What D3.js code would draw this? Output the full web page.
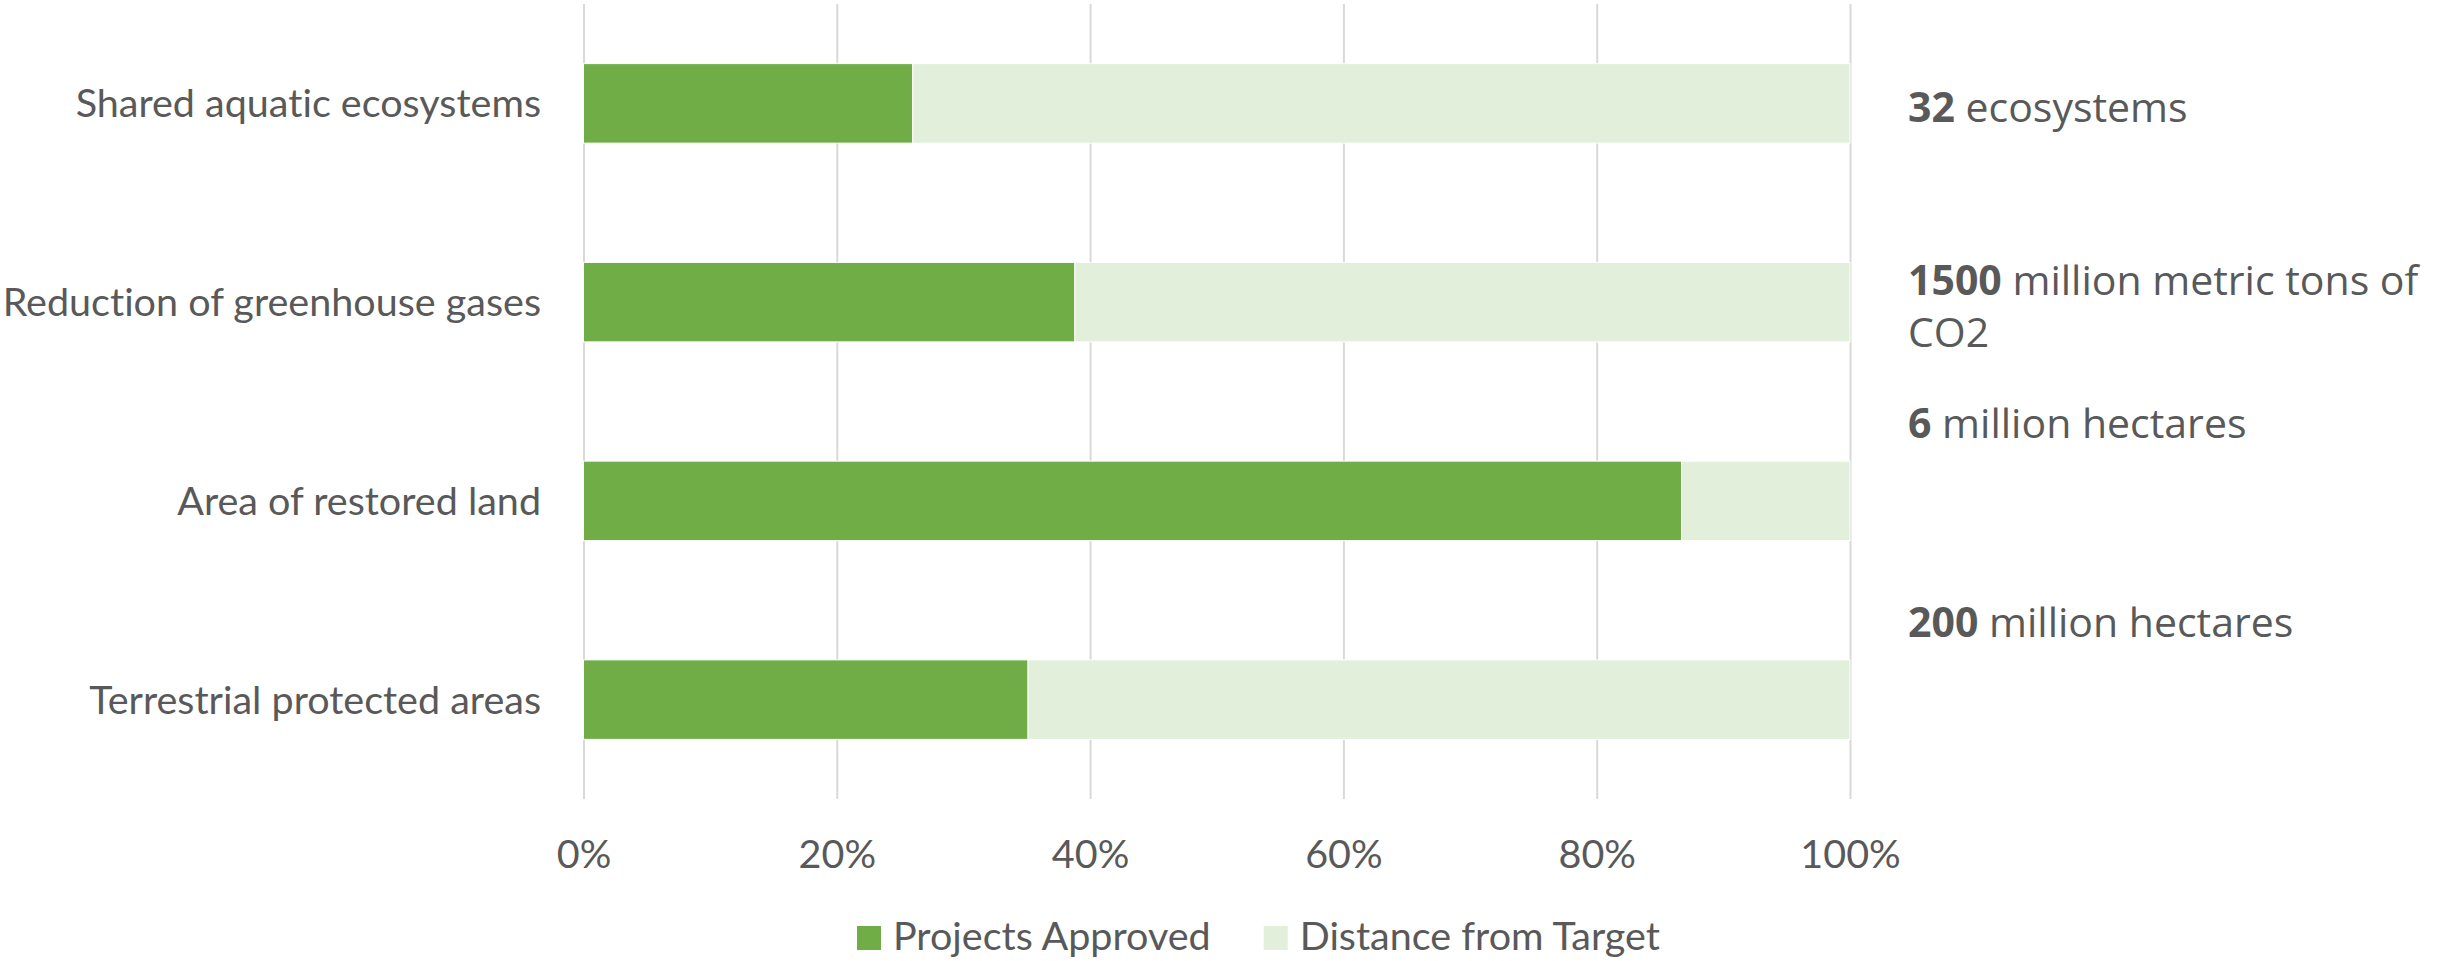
<!DOCTYPE html>
<html>
<head>
<meta charset="utf-8">
<script src="https://cdn.jsdelivr.net/npm/d3@7"></script>
<style>
  html, body { margin: 0; padding: 0; background: #ffffff; }
  svg { display: block; }
  text { font-variant-ligatures: none; font-feature-settings: "liga" 0, "clig" 0, "dlig" 0; }
</style>
</head>
<body>
<svg id="chart" width="2438" height="961"></svg>
<script>
// ---------- data ----------
const categories = [
  "Shared aquatic ecosystems",
  "Reduction of greenhouse gases",
  "Area of restored land",
  "Terrestrial protected areas"
];
const projectsApproved = [0.26, 0.388, 0.867, 0.351];
const distanceFromTarget = projectsApproved.map(v => 1 - v);
const seriesNames = ["Projects Approved", "Distance from Target"];
const tickValues = [0, 0.2, 0.4, 0.6, 0.8, 1.0];
const targetBold = ["32", "1500", "6", "200"];
const targetRest = [["ecosystems"], ["million metric tons of", "CO2"], ["million hectares"], ["million hectares"]];

// ---------- layout / style ----------
const W = 2438, H = 961;
const plot = { left: 583.5, right: 1850, top: 4, bottom: 799 };
const colors = ["#70AD47", "#E2EFDA"];
const textColor = "#595959";
const gridColor = "#D9D9D9";
const labelFont = "Lato, 'Open Sans', sans-serif";
const labelSize = 39.5;
const noteFont = "'Open Sans', 'Noto Sans', sans-serif";
const noteSize = 41;
const noteX = 1908;
const noteBaselineOffset = [19, -7, -63, -63]; // relative to band centre
const noteLineGap = 52;

const svg = d3.select("#chart");

const x = d3.scaleLinear().domain([0, 1]).range([plot.left, plot.right]);
const y = d3.scaleBand().domain(categories).range([plot.top, plot.bottom])
  .paddingInner(0.6).paddingOuter(0.3);

// gridlines
const grid = svg.append("g").attr("class", "grid")
  .attr("transform", `translate(0,${plot.bottom})`)
  .call(d3.axisBottom(x).tickValues(tickValues).tickSize(-(plot.bottom - plot.top)).tickFormat(""));
grid.select(".domain").remove();
grid.selectAll(".tick line").attr("stroke", gridColor).attr("stroke-width", 2);

// stacked bars
const stackData = categories.map((c, i) => ({ cat: c, a: projectsApproved[i], b: distanceFromTarget[i] }));
const stack = d3.stack().keys(["a", "b"])(stackData);

svg.append("g").selectAll("g")
  .data(stack)
  .join("g")
  .attr("fill", (d, i) => colors[i])
  .selectAll("rect")
  .data(d => d)
  .join("rect")
  .attr("x", d => x(d[0]))
  .attr("y", d => y(d.data.cat))
  .attr("width", d => x(d[1]) - x(d[0]))
  .attr("height", y.bandwidth())
  .attr("stroke", "#ffffff")
  .attr("stroke-width", 1);

// x axis labels
const xAxis = svg.append("g")
  .attr("transform", `translate(0,${plot.bottom})`)
  .call(d3.axisBottom(x).tickValues(tickValues).tickSize(0).tickFormat(d3.format(".0%")));
xAxis.select(".domain").remove();
xAxis.selectAll("text")
  .attr("y", 868 - plot.bottom).attr("dy", null)
  .attr("fill", textColor)
  .style("font-family", labelFont).style("font-size", labelSize + "px");

// y axis labels
const yAxis = svg.append("g")
  .attr("transform", `translate(541,0)`)
  .call(d3.axisLeft(y).tickSize(0).tickPadding(0));
yAxis.select(".domain").remove();
yAxis.selectAll("text")
  .attr("x", 0).attr("dy", null).attr("y", 14)
  .attr("fill", textColor)
  .attr("text-anchor", "end")
  .style("font-family", labelFont).style("font-size", labelSize + "px");

// right-side target notes
const notes = svg.append("g");
categories.forEach((c, i) => {
  const base = y(c) + y.bandwidth() / 2 + noteBaselineOffset[i];
  const t = notes.append("text")
    .attr("x", noteX).attr("y", base)
    .attr("fill", textColor)
    .style("font-family", noteFont).style("font-size", noteSize + "px");
  t.append("tspan").attr("font-weight", "bold").text(targetBold[i]);
  t.append("tspan").text(" " + targetRest[i][0]);
  for (let k = 1; k < targetRest[i].length; k++) {
    t.append("tspan").attr("x", noteX).attr("dy", noteLineGap).text(targetRest[i][k]);
  }
});

// legend
const legend = svg.append("g");
let lx = 857;
seriesNames.forEach((name, i) => {
  legend.append("rect").attr("x", lx).attr("y", 926).attr("width", 24).attr("height", 24).attr("fill", colors[i]);
  const t = legend.append("text").attr("x", lx + 36).attr("y", 950)
    .attr("fill", textColor)
    .style("font-family", labelFont).style("font-size", labelSize + "px")
    .text(name);
  lx = lx + 36 + t.node().getComputedTextLength() + 53;
});
</script>
</body>
</html>
